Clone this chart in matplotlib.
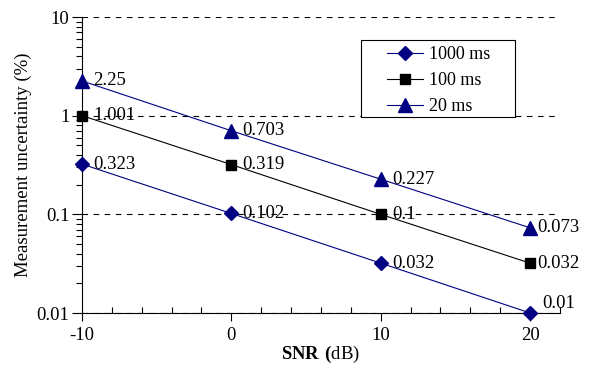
import matplotlib
matplotlib.use("Agg")
import matplotlib.pyplot as plt
from matplotlib.patches import Rectangle

snr = [-10, 0, 10, 20]
series_names = ["1000 ms", "100 ms", "20 ms"]
u_1000 = [0.323, 0.102, 0.032, 0.01]
u_100 = [1.001, 0.319, 0.1, 0.032]
u_20 = [2.25, 0.703, 0.227, 0.073]
labels_1000 = ["0.323", "0.102", "0.032", "0.01"]
labels_100 = ["1.001", "0.319", "0.1", "0.032"]
labels_20 = ["2.25", "0.703", "0.227", "0.073"]
xticks = [-10, 0, 10, 20]
yticks = [0.01, 0.1, 1, 10]
yticklabels = ["0.01", "0.1", "1", "10"]

plt.rcParams['font.family'] = ['Liberation Serif', 'DejaVu Serif']
plt.rcParams['mathtext.fontset'] = 'custom'
plt.rcParams['mathtext.rm'] = 'Liberation Serif'
plt.rcParams['mathtext.bf'] = 'Liberation Serif:bold'

W, H = 591, 365
fig = plt.figure(figsize=(W / 100, H / 100), dpi=100)
ax = fig.add_axes([82 / W, 1 - 313 / H, (560 - 82) / W, (313 - 17) / H])
navy = '#000080'
fs = 13.5

styles = [
    (u_1000, labels_1000, navy, 'D', 7.5),
    (u_100, labels_100, 'black', 's', 7),
    (u_20, labels_20, navy, '^', 9.5),
]
for (vals, labs, col, mk, ms), name in zip(styles, series_names):
    ax.plot(snr, vals, color=col, lw=0.8, marker=mk, ms=ms, mfc=col, mec=col, label=name, zorder=3, clip_on=False)
    for i, (x, v, t) in enumerate(zip(snr, vals, labs)):
        if t == "0.01":
            ax.annotate(t, (x, v), xytext=(9, 7), textcoords='offset points', va='center', ha='left', fontsize=fs)
        elif x == 20:
            ax.annotate(t, (x, v), xytext=(5, 0), textcoords='offset points', va='center', ha='left', fontsize=fs)
        else:
            ax.annotate(t, (x, v), xytext=(8, 0), textcoords='offset points', va='center', ha='left', fontsize=fs)

ax.set_yscale('log')
ax.set_ylim(0.01, 10)
ax.set_xlim(-10, 22)
ax.set_xticks(xticks)
ax.set_xticklabels([str(t) for t in xticks], fontsize=fs)
ax.set_xticks(range(-10, 23, 2), minor=True)
ax.set_yticks(yticks)
ax.set_yticklabels(yticklabels, fontsize=fs)
ax.tick_params(axis='x', which='major', direction='out', length=6, width=0.8, pad=4)
ax.tick_params(axis='x', which='minor', direction='in', length=4, width=0.8)
ax.tick_params(axis='y', which='major', direction='out', length=7, width=0.8, pad=2)
ax.tick_params(axis='y', which='minor', direction='out', length=4, width=0.8, labelleft=False)
for s in ['top', 'right']:
    ax.spines[s].set_visible(False)
ax.yaxis.grid(True, which='major', color='black', linestyle=(0, (5, 5)), lw=0.8)
ax.set_axisbelow(True)

ax.set_ylabel('Measurement uncertainty (%)', fontsize=fs, labelpad=3)
ax.set_xlabel(r'$\mathbf{SNR\ (}$dB)', fontsize=fs, labelpad=0)

# legend frame drawn as a rectangle, legend entries without frame
frame = Rectangle((361 / W, 1 - 117 / H), 154 / W, 77 / H, transform=fig.transFigure,
                  facecolor='white', edgecolor='black', lw=0.8, zorder=4, clip_on=False)
ax.add_patch(frame)
leg = ax.legend(loc='upper left', bbox_to_anchor=((387 - 82) / 478, (313 - 46) / 296), fontsize=13,
                frameon=False, handlelength=2.0, borderpad=0, labelspacing=0.5,
                handletextpad=0.33, borderaxespad=0)
leg.set_zorder(5)

fig.savefig('out.png', dpi=100)
